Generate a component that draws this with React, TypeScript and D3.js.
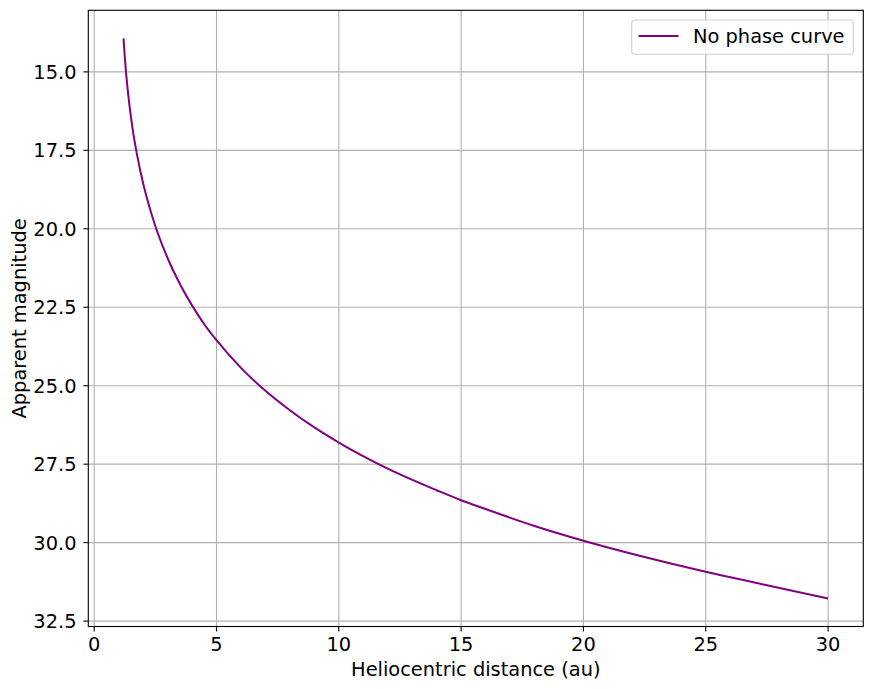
import React, { useEffect, useRef } from 'react';
import * as d3 from 'd3';

// heliocentric distance (au) and apparent magnitude
const distance = [1.2, 1.25, 1.3, 1.35, 1.4, 1.5, 1.6, 1.75, 2, 2.25, 2.5, 3, 3.5, 4, 4.5, 5, 6, 7, 8, 9, 10, 12, 14, 15, 16, 18, 20, 22.5, 25, 27.5, 30];
const magnitude = [13.93, 14.51, 15.0, 15.41, 15.78, 16.42, 16.96, 17.63, 18.55, 19.28, 19.91, 20.93, 21.75, 22.44, 23.04, 23.55, 24.43, 25.16, 25.78, 26.33, 26.81, 27.64, 28.33, 28.65, 28.93, 29.47, 29.94, 30.46, 30.93, 31.36, 31.78];
const xTicks = [0, 5, 10, 15, 20, 25, 30];
const yTicks = [15, 17.5, 20, 22.5, 25, 27.5, 30, 32.5];
const seriesLabel = 'No phase curve';

const W = 872;
const H = 689;
const margin = { left: 88.3, top: 10.3, right: 863.3, bottom: 626.5 };
const font = 'DejaVu Sans, sans-serif';
const fs = '19.4px';

export default function App() {
  const ref = useRef<SVGSVGElement>(null);

  useEffect(() => {
    if (!ref.current) return;
    const svg = d3.select(ref.current);
    svg.selectAll('*').remove();

    const pts = distance.map((d, i) => [d, magnitude[i]] as [number, number]);

    const xMin = d3.min(distance)!, xMax = d3.max(distance)!;
    const yMin = d3.min(magnitude)!, yMax = d3.max(magnitude)!;
    const xPad = (xMax - xMin) * 0.05;
    const yPad = (yMax - yMin) * 0.05;

    const x = d3.scaleLinear().domain([xMin - xPad, xMax + xPad]).range([margin.left, margin.right]);
    // inverted magnitude axis
    const y = d3.scaleLinear().domain([yMin - yPad, yMax + yPad]).range([margin.top, margin.bottom]);

    svg.append('rect').attr('width', W).attr('height', H).attr('fill', '#fff');

    // grid
    const grid = svg.append('g').attr('stroke', '#b0b0b0').attr('stroke-width', 1.1);
    grid.selectAll('.gx').data(xTicks).enter().append('line')
      .attr('x1', d => x(d)).attr('x2', d => x(d))
      .attr('y1', margin.top).attr('y2', margin.bottom);
    grid.selectAll('.gy').data(yTicks).enter().append('line')
      .attr('y1', d => y(d)).attr('y2', d => y(d))
      .attr('x1', margin.left).attr('x2', margin.right);

    // curve
    const line = d3.line<[number, number]>()
      .x(d => x(d[0]))
      .y(d => y(d[1]))
      .curve(d3.curveMonotoneX);
    svg.append('path')
      .datum(pts)
      .attr('d', line)
      .attr('fill', 'none')
      .attr('stroke', '#800080')
      .attr('stroke-width', 2);

    // frame
    svg.append('rect')
      .attr('x', margin.left).attr('y', margin.top)
      .attr('width', margin.right - margin.left)
      .attr('height', margin.bottom - margin.top)
      .attr('fill', 'none').attr('stroke', '#000').attr('stroke-width', 1.1);

    // x ticks
    const xg = svg.append('g');
    xg.selectAll('line').data(xTicks).enter().append('line')
      .attr('x1', d => x(d)).attr('x2', d => x(d))
      .attr('y1', margin.bottom).attr('y2', margin.bottom + 4.9)
      .attr('stroke', '#000').attr('stroke-width', 1.1);
    xg.selectAll('text').data(xTicks).enter().append('text')
      .attr('x', d => x(d)).attr('y', 651)
      .attr('text-anchor', 'middle')
      .style('font-family', font).style('font-size', fs)
      .text(d => String(d));

    // y ticks
    const yg = svg.append('g');
    yg.selectAll('line').data(yTicks).enter().append('line')
      .attr('y1', d => y(d)).attr('y2', d => y(d))
      .attr('x1', margin.left - 4.9).attr('x2', margin.left)
      .attr('stroke', '#000').attr('stroke-width', 1.1);
    yg.selectAll('text').data(yTicks).enter().append('text')
      .attr('x', 76.5).attr('y', d => y(d))
      .attr('dy', '0.36em')
      .attr('text-anchor', 'end')
      .style('font-family', font).style('font-size', fs)
      .text(d => d.toFixed(1));

    // axis labels
    svg.append('text')
      .attr('x', (margin.left + margin.right) / 2).attr('y', 676)
      .attr('text-anchor', 'middle')
      .style('font-family', font).style('font-size', fs)
      .text('Heliocentric distance (au)');
    svg.append('text')
      .attr('transform', `translate(26,${(margin.top + margin.bottom) / 2}) rotate(-90)`)
      .attr('text-anchor', 'middle')
      .style('font-family', font).style('font-size', fs)
      .text('Apparent magnitude');

    // legend
    const lg = svg.append('g');
    lg.append('rect')
      .attr('x', 631.7).attr('y', 20).attr('width', 221.6).attr('height', 34.3)
      .attr('rx', 3)
      .attr('fill', 'rgba(255,255,255,0.8)')
      .attr('stroke', '#d0d0d0').attr('stroke-width', 1.1);
    lg.append('line')
      .attr('x1', 638.5).attr('x2', 678.5).attr('y1', 36).attr('y2', 36)
      .attr('stroke', '#800080').attr('stroke-width', 2);
    lg.append('text')
      .attr('x', 693).attr('y', 42.5)
      .style('font-family', font).style('font-size', fs)
      .text(seriesLabel);
  }, []);

  return (
    <svg
      ref={ref}
      width={W}
      height={H}
      style={{ position: 'absolute', left: 0, top: 0, display: 'block' }}
    />
  );
}
